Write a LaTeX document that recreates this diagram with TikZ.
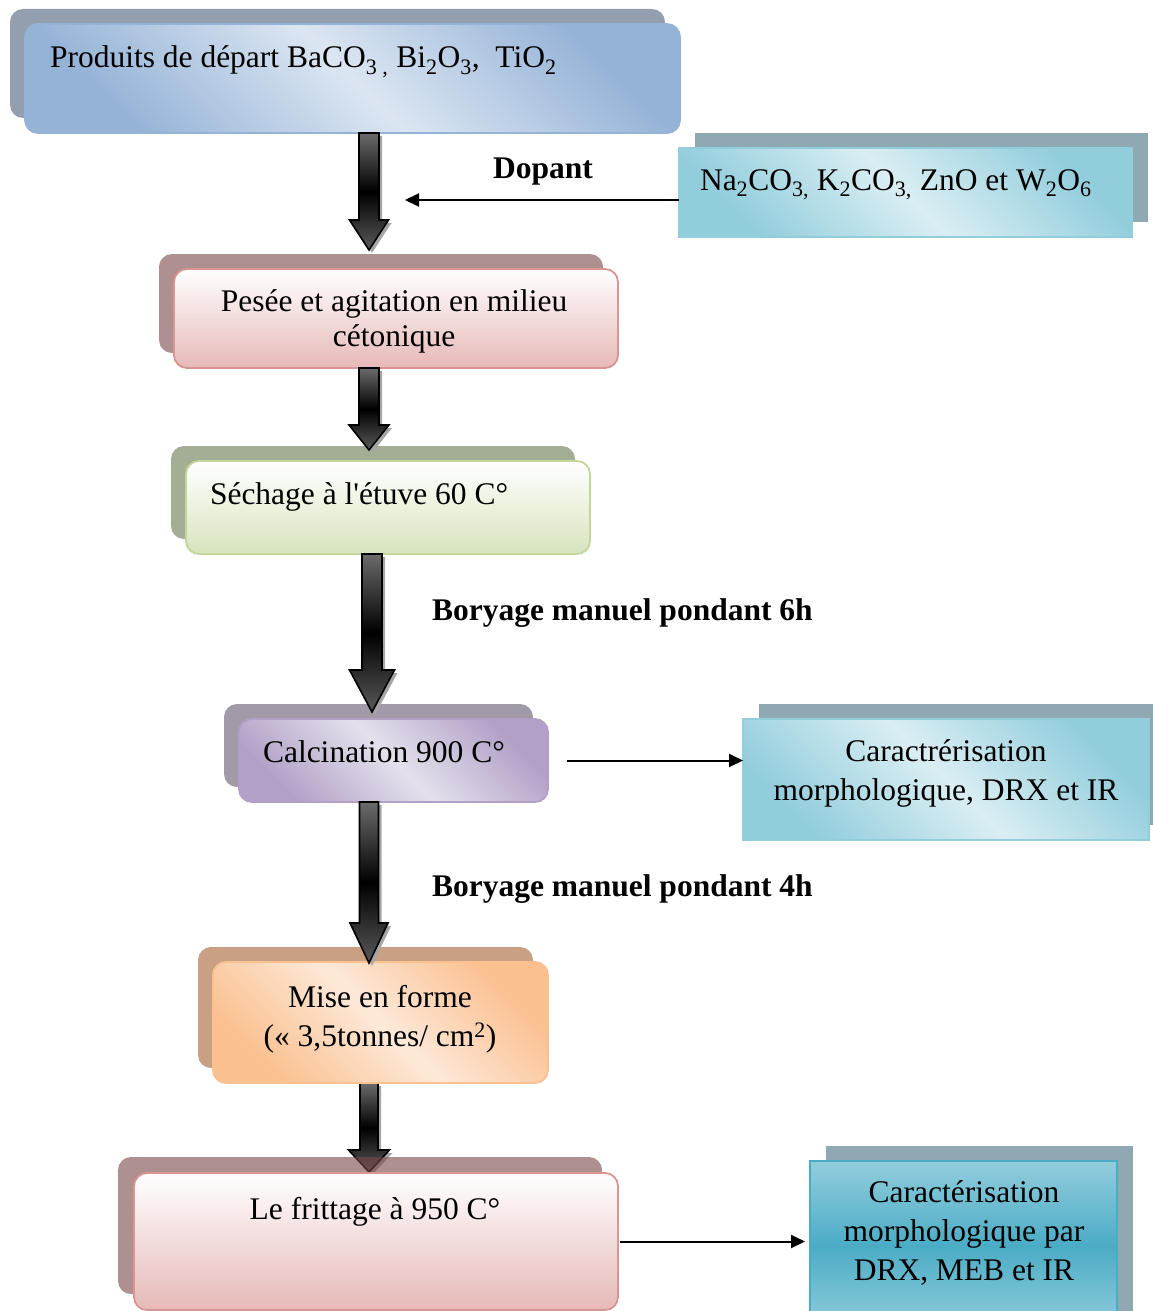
\documentclass[tikz,border=0pt]{standalone}
\usepackage{fontspec}
\setmainfont{Liberation Serif}
\usetikzlibrary{arrows.meta,calc,shadows}
\definecolor{blueD}{HTML}{95B3D7}
\definecolor{blueL}{HTML}{DCE6F2}
\definecolor{blueSh}{HTML}{939FAE}
\definecolor{cyanD}{HTML}{92CDDC}
\definecolor{cyanL}{HTML}{DAEEF3}
\definecolor{cyanM}{HTML}{4BACC6}
\definecolor{cyanSh}{HTML}{8EA9B1}
\definecolor{pinkD}{HTML}{E6B9B8}
\definecolor{pinkB}{HTML}{D99594}
\definecolor{pinkSh}{HTML}{AE9090}
\definecolor{pinkShT}{HTML}{784646}
\definecolor{greenD}{HTML}{D7E4BD}
\definecolor{greenB}{HTML}{C3D69B}
\definecolor{greenSh}{HTML}{A4AE94}
\definecolor{purpD}{HTML}{B2A1C7}
\definecolor{purpL}{HTML}{E5E0EC}
\definecolor{purpSh}{HTML}{A29AA6}
\definecolor{orD}{HTML}{FAC090}
\definecolor{orL}{HTML}{FDE9D9}
\definecolor{orSh}{HTML}{C9A083}
\pgfdeclarelayer{bg}
\pgfsetlayers{bg,main}
\newcommand\blockarrow[5]{%
  \fill[arrshadow] let \p1=(#1), \p2=(#2) in
    ({\x1-#3pt+3pt},{\y1-3pt}) -- ({\x1+#3pt+3pt},{\y1-3pt}) -- ({\x1+#3pt+3pt},{\y2+#5pt-3pt})
    -- ({\x1+#4pt+3pt},{\y2+#5pt-3pt}) -- ({\x1+3pt},{\y2-3pt}) -- ({\x1-#4pt+3pt},{\y2+#5pt-3pt})
    -- ({\x1-#3pt+3pt},{\y2+#5pt-3pt}) -- cycle;
  \draw[arrbody] let \p1=(#1), \p2=(#2) in
    ({\x1-#3pt},{\y1}) -- ({\x1+#3pt},{\y1}) -- ({\x1+#3pt},{\y2+#5pt})
    -- ({\x1+#4pt},{\y2+#5pt}) -- ({\x1},{\y2}) -- ({\x1-#4pt},{\y2+#5pt})
    -- ({\x1-#3pt},{\y2+#5pt}) -- cycle;
}
\tikzset{
  box/.style={draw, line width=1.8pt, rounded corners=13pt, inner sep=0pt, outer sep=0pt},
  sqbox/.style={draw, line width=1.8pt, inner sep=0pt, outer sep=0pt},
  shUL/.style={general shadow={fill=#1, shadow xshift=-15pt, shadow yshift=15pt}},
  shUR/.style={general shadow={fill=#1, shadow xshift=16pt, shadow yshift=15pt}},
  diag/.style 2 args={top color=#1, bottom color=#1, middle color=#2, shading angle=-45},
  arrshadow/.style={fill=black!35},
  arrbody/.style={draw=black, line width=1.6pt, line join=miter, top color=black!58, bottom color=black!65, middle color=black},
  thin/.style={line width=2pt, -{Triangle[length=14pt,width=13pt]}},
  txt/.style={inner sep=0pt, outer sep=0pt},
  lbl/.style={inner sep=0pt, outer sep=0pt, font=\bfseries\fontsize{31.5}{35}\selectfont},
}
\begin{document}
\begin{tikzpicture}[x=1pt, y=-1pt, font=\fontsize{31.5}{35}\selectfont]
\clip (0,0) rectangle (1153,1311);

% boxes
\node[box, shUL=blueSh, draw=blueD, diag={blueD}{blueL}, minimum width=655pt, minimum height=109pt] (prod) at (352.5,78.5) {};
\node[sqbox, shUR=cyanSh, draw=cyanD, diag={cyanD}{cyanL}, minimum width=453pt, minimum height=89pt] (dop) at (905.5,192.5) {};
\node[box, shUL=pinkSh, draw=pinkB, top color=white, bottom color=pinkD, minimum width=444pt, minimum height=99pt] (pesee) at (396,318.5) {};
\node[box, shUL=greenSh, draw=greenB, top color=white, bottom color=greenD, minimum width=404pt, minimum height=93pt] (sech) at (388,507.5) {};
\node[box, shUL=purpSh, draw=purpD, diag={purpD}{purpL}, minimum width=309pt, minimum height=83pt] (calc) at (393.5,760.5) {};
\node[sqbox, shUR=cyanSh, draw=cyanD, diag={cyanD}{cyanL}, minimum width=406pt, minimum height=121pt] (car1) at (946,779.5) {};
\node[box, shUL=orSh, draw=orD, diag={orD}{orL}, minimum width=335pt, minimum height=121pt] (mise) at (380.5,1022.5) {};
\node[box, general shadow={fill=pinkShT, fill opacity=0.6, shadow xshift=-16pt, shadow yshift=16pt}, draw=pinkB, top color=white, bottom color=pinkD, minimum width=484pt, minimum height=137pt] (frit) at (376,1241.5) {};
\node[sqbox, shUR=cyanSh, draw=cyanM, top color=cyanD, bottom color=cyanD, middle color=cyanM, minimum width=307pt, minimum height=170pt] (car2) at (963.5,1246) {};

% texts
\node[txt, anchor=base west] (tprod) at (50,68) {Produits de départ BaCO\textsubscript{3 ,} Bi\textsubscript{2}O\textsubscript{3},\ \ TiO\textsubscript{2}};
\node[txt, anchor=base west] (tdop) at (700,190) {Na\textsubscript{2}CO\textsubscript{3,} K\textsubscript{2}CO\textsubscript{3,} ZnO et W\textsubscript{2}O\textsubscript{6}};
\node[txt, align=center] (tpesee) at (394,321) {Pesée et agitation en milieu\\cétonique};
\node[txt, anchor=base west] (tsech) at (210,504) {Séchage à l\textquotesingle étuve 60 C°};
\node[txt, anchor=base west] (tcalc) at (263,762) {Calcination 900 C°};
\node[txt, align=center, font=\fontsize{31.5}{39}\selectfont] (tcar1) at (946,773) {Caractrérisation\\morphologique, DRX et IR};
\node[txt, align=center, font=\fontsize{31.5}{39}\selectfont] (tmise) at (380,1019) {Mise en forme\\(« 3,5tonnes/ cm\textsuperscript{2})};
\node[txt, anchor=base] (tfrit) at (375,1219) {Le frittage à 950 C°};
\node[txt, align=center, font=\fontsize{31.5}{39}\selectfont] (tcar2) at (964,1233) {Caractérisation\\morphologique par\\DRX, MEB et IR};

% labels
\node[lbl, anchor=base] (ldop) at (543,178) {Dopant};
\node[lbl, anchor=base west] (lb6) at (432,620) {Boryage manuel pondant 6h};
\node[lbl, anchor=base west] (lb4) at (432,896) {Boryage manuel pondant 4h};

% coordinates for block arrows
\coordinate (ax) at (369,0);
\coordinate (bx) at (372,0);
\path (pesee.north -| ax) ++(0,-19) coordinate (tip1);
\path (sech.north -| ax) ++(0,-11) coordinate (tip2);
\path (calc.north -| bx) ++(0,-7) coordinate (tip3);
\path (mise.north -| ax) ++(0,1) coordinate (tip4);
\path (frit.north -| ax) ++(0,-1) coordinate (tip5);

\blockarrow{prod.south -| ax}{tip1}{10}{19.5}{30}
\blockarrow{pesee.south -| ax}{tip2}{10}{20}{25}
\blockarrow{sech.south -| bx}{tip3}{10}{22.5}{42}
\blockarrow{calc.south -| ax}{tip4}{9.5}{19}{40}
\begin{pgfonlayer}{bg}
\blockarrow{mise.south -| ax}{tip5}{9}{20.5}{22}
\end{pgfonlayer}

% thin arrows
\coordinate (dopend) at (405,200);
\draw[thin] (dopend -| dop.west) -- (dopend);
\draw[thin] ([xshift=19pt]calc.east) -- (car1.west |- calc.east);
\draw[thin] ([xshift=2pt]frit.east) -- ([xshift=-5pt]car2.west |- frit.east);
\end{tikzpicture}
\end{document}
